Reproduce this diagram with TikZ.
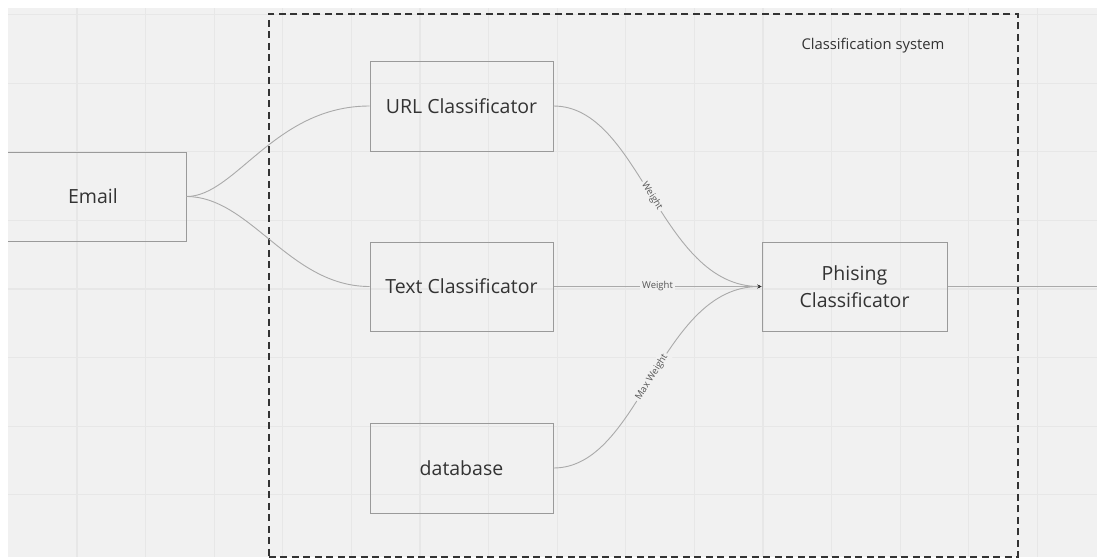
\documentclass[tikz,border=0pt]{standalone}
\usepackage{fontspec}
\setmainfont{Open Sans}
\usetikzlibrary{arrows.meta}
\definecolor{canvas}{HTML}{F1F1F1}
\definecolor{gridln}{HTML}{E7E7E7}
\definecolor{boxline}{HTML}{9A9A9A}
\definecolor{wire}{HTML}{AAAAAA}
\definecolor{ink}{HTML}{333333}
\definecolor{labink}{HTML}{555555}
\definecolor{frame}{HTML}{333333}
\begin{document}
\begin{tikzpicture}[x=1pt,y=-1pt,
  block/.style={draw=boxline, line width=1pt, inner sep=0pt, text=ink,
    align=center, font=\fontsize{19.5}{27}\selectfont},
  wire/.style={draw=wire, line width=0.9pt},
  tip/.style={-{Stealth[length=4pt,width=3.5pt,color=ink]}},
  weightlabel/.style={fill=canvas, inner sep=2pt, text=labink,
    font=\fontsize{9.5}{11}\selectfont},
  sysframe/.style={draw=frame, line width=1.8pt, dash pattern=on 7pt off 4.5pt}]

% page and canvas
\fill[white] (0,0) rectangle (1097,557);
\useasboundingbox (0,0) rectangle (1097,557);
\begin{scope}
\clip (8,8) rectangle (1097,557);
\fill[canvas] (8,8) rectangle (1097,557);
% background grid
\foreach \k in {1,...,15} \draw[gridln, line width=1.2pt] ({8.4+68.6*\k},8) -- ++(0,549);
\foreach \k in {0,...,7} \draw[gridln, line width=1.2pt] (8,{14.5+68.6*\k}) -- ++(1089,0);

% classification system frame
\node[sysframe, inner sep=0pt, anchor=north west, minimum width=749pt, minimum height=543pt]
  (system) at (268,13) {};
\node[text=ink, font=\fontsize{14.8}{17}\selectfont] (systitle) at (873,46) {Classification system};

% blocks
\node[block, minimum width=186pt, minimum height=89pt] (email) at (93,196.5) {Email};
\node[block, minimum width=183pt, minimum height=90pt] (url) at (461.5,106) {URL Classificator};
\node[block, minimum width=183pt, minimum height=89pt] (text) at (461.5,286.5) {Text Classificator};
\node[block, minimum width=183pt, minimum height=90pt] (db) at (461.5,468) {database};
\node[block, minimum width=185pt, minimum height=89pt] (phis) at (854.5,286.5) {Phising\\Classificator};
\coordinate (out) at (1097,286.5);

% connectors
\draw[wire] (email.east) .. controls +(49,0) and +(-95,0) .. (url.west);
\draw[wire] (email.east) .. controls +(64,0) and +(-80,0) .. (text.west);
\draw[wire, tip] (url.east) .. controls +(87,0) and +(-102,0) .. (phis.west)
  node[weightlabel, pos=0.5, sloped] (w1) {Weight};
\draw[wire, tip] (text.east) -- (phis.west)
  node[weightlabel, pos=0.5] (w2) {Weight};
\draw[wire, tip] (db.east) .. controls +(87,0) and +(-102,0) .. (phis.west)
  node[weightlabel, pos=0.5, sloped] (w3) {Max Weight};
\draw[wire] (phis.east) -- (out);
\end{scope}
\end{tikzpicture}
\end{document}
